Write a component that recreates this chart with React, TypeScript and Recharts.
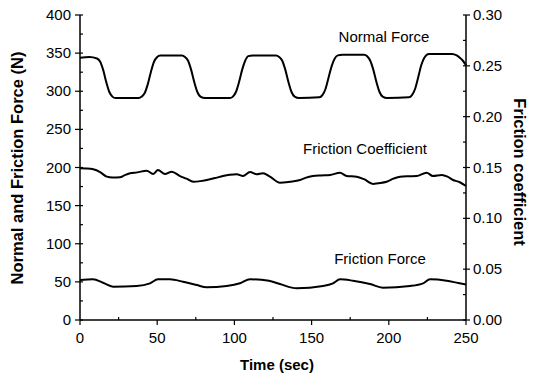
import { LineChart, Line, XAxis, YAxis } from 'recharts'

// Normal force (N)
const normalTime = [0, 6, 11, 13, 15, 17, 19, 21, 23, 38, 40, 42, 44, 46, 48, 50, 52, 66, 68, 70, 72, 74, 76, 78, 81, 97, 99, 101, 103, 105, 107, 109, 112, 127, 129, 131, 133, 135, 137, 139, 142, 155, 157, 159, 161, 163, 165, 167, 170, 184, 186, 188, 190, 192, 194, 196, 199, 213, 215, 217, 219, 221, 223, 226, 241, 244, 246, 248, 250]
const normalForce = [344, 345, 343, 339, 328, 312, 299, 293, 291, 291, 293, 298, 310, 326, 339, 345, 347, 347, 345, 340, 328, 312, 299, 293, 291, 291, 293, 299, 312, 328, 340, 346, 347, 347, 345, 340, 328, 312, 299, 293, 291, 292, 295, 303, 318, 333, 343, 347, 348, 348, 346, 340, 328, 312, 299, 293, 291, 292, 295, 303, 318, 334, 344, 349, 349, 347, 344, 340, 334]

// Friction coefficient (right axis)
const coefTime = [0, 4, 8.6, 13, 17.3, 21, 25.9, 29, 32.4, 37, 43.2, 47.3, 50.5, 55, 59.4, 64.8, 69, 73.4, 78, 84.2, 88, 92.6, 97, 101.5, 105.6, 110.1, 114.4, 118.5, 123, 129.5, 136, 142.5, 146, 150.9, 156, 161.9, 168.4, 172.7, 179.2, 184, 189.8, 193, 198.6, 203, 207.3, 213, 218, 224.5, 228.6, 234.3, 238, 241.6, 246, 250]
const coefValue = [0.1492, 0.149, 0.1482, 0.1455, 0.141, 0.1402, 0.1404, 0.1425, 0.1443, 0.1452, 0.1469, 0.1436, 0.1475, 0.1436, 0.1459, 0.1416, 0.139, 0.136, 0.1366, 0.1384, 0.1398, 0.1416, 0.1428, 0.1433, 0.1416, 0.1456, 0.1433, 0.1443, 0.141, 0.135, 0.136, 0.1377, 0.1398, 0.1416, 0.1422, 0.1426, 0.1449, 0.1416, 0.141, 0.1385, 0.1338, 0.1345, 0.136, 0.139, 0.141, 0.1414, 0.1416, 0.1449, 0.1416, 0.1426, 0.141, 0.1377, 0.1355, 0.1318]

// Friction force (N)
const frictionTime = [0, 8.4, 14.9, 21.4, 36.7, 45.3, 50.5, 58.3, 66.7, 75.6, 82, 95, 103.6, 110.1, 122.4, 129.5, 140.3, 157.4, 163.9, 168.4, 176.8, 187.8, 196.2, 213.7, 222.2, 226.7, 237.5, 245, 250]
const frictionForce = [52.5, 53.4, 48.9, 43.7, 44.6, 48.1, 53.4, 53.4, 50.2, 45.9, 42.9, 44.6, 48.1, 53.4, 51.5, 47.2, 41.6, 44.6, 48.1, 53.4, 51.5, 47.2, 42.4, 44.6, 48.1, 53.4, 51.5, 48.5, 46.6]

const timeTicks = [0, 25, 50, 75, 100, 125, 150, 175, 200, 225, 250]
const forceTicks = [0, 25, 50, 75, 100, 125, 150, 175, 200, 225, 250, 275, 300, 325, 350, 375, 400]
const coefTicks = [0, 0.025, 0.05, 0.075, 0.1, 0.125, 0.15, 0.175, 0.2, 0.225, 0.25, 0.275, 0.3]

const normalData = normalTime.map((t, i) => ({ t, v: normalForce[i] }))
const coefData = coefTime.map((t, i) => ({ t, v: coefValue[i] }))
const frictionData = frictionTime.map((t, i) => ({ t, v: frictionForce[i] }))

const FONT = 'Arial, "Liberation Sans", Helvetica, sans-serif'

const isMajor = (v: number, step: number) => Math.abs(v / step - Math.round(v / step)) < 1e-6

function BottomTick({ x, y, payload }: any) {
  const major = isMajor(payload.value, 50)
  return (
    <g>
      <line x1={x} x2={x} y1={y} y2={major ? y + 5 : y - 3} stroke="#000" strokeWidth={1.2} />
      {major && (
        <text x={x} y={y + 23} textAnchor="middle" fontSize={15} fontFamily={FONT} fill="#000">
          {payload.value}
        </text>
      )}
    </g>
  )
}

function TopTick({ x, y }: any) {
  return <line x1={x} x2={x} y1={y} y2={y + 4} stroke="#000" strokeWidth={1.2} />
}

function LeftTick({ x, y, payload }: any) {
  const major = isMajor(payload.value, 50)
  return (
    <g>
      <line x1={major ? x - 5 : x} x2={x + 3} y1={y} y2={y} stroke="#000" strokeWidth={1.2} />
      {major && (
        <text x={x - 9} y={y + 5} textAnchor="end" fontSize={15} fontFamily={FONT} fill="#000">
          {payload.value}
        </text>
      )}
    </g>
  )
}

function RightTick({ x, y, payload }: any) {
  const major = isMajor(payload.value, 0.05)
  return (
    <g>
      <line x1={x - 3} x2={major ? x + 4 : x} y1={y} y2={y} stroke="#000" strokeWidth={1.2} />
      {major && (
        <text x={x + 7} y={y + 5} textAnchor="start" fontSize={15} fontFamily={FONT} fill="#000">
          {payload.value.toFixed(2)}
        </text>
      )}
    </g>
  )
}

export default function App() {
  return (
    <div style={{ position: 'absolute', left: 0, top: 0, width: 535, height: 378, background: '#fff' }}>
      <LineChart width={535} height={378} margin={{ top: 15, right: 0, bottom: 0, left: 0 }}>
        <XAxis
          xAxisId="bottom"
          dataKey="t"
          type="number"
          domain={[0, 250]}
          ticks={timeTicks}
          interval={0}
          height={58}
          tickSize={0}
          tickMargin={0}
          tickLine={false}
          tick={<BottomTick />}
          axisLine={{ stroke: '#000', strokeWidth: 1.5 }}
        />
        <XAxis
          xAxisId="top"
          orientation="top"
          dataKey="t"
          type="number"
          domain={[0, 250]}
          ticks={timeTicks}
          interval={0}
          height={0}
          tickSize={0}
          tickMargin={0}
          tickLine={false}
          tick={<TopTick />}
          axisLine={{ stroke: '#000', strokeWidth: 1.5 }}
        />
        <YAxis
          yAxisId="left"
          type="number"
          domain={[0, 400]}
          ticks={forceTicks}
          interval={0}
          width={80}
          tickSize={0}
          tickMargin={0}
          tickLine={false}
          tick={<LeftTick />}
          axisLine={{ stroke: '#000', strokeWidth: 1.5 }}
        />
        <YAxis
          yAxisId="right"
          orientation="right"
          type="number"
          domain={[0, 0.3]}
          ticks={coefTicks}
          interval={0}
          width={69}
          tickSize={0}
          tickMargin={0}
          tickLine={false}
          tick={<RightTick />}
          axisLine={{ stroke: '#000', strokeWidth: 1.5 }}
        />
        <Line
          data={normalData}
          xAxisId="bottom"
          yAxisId="left"
          dataKey="v"
          type="monotone"
          stroke="#000"
          strokeWidth={2}
          dot={false}
          isAnimationActive={false}
        />
        <Line
          data={coefData}
          xAxisId="bottom"
          yAxisId="right"
          dataKey="v"
          type="monotone"
          stroke="#000"
          strokeWidth={2}
          dot={false}
          isAnimationActive={false}
        />
        <Line
          data={frictionData}
          xAxisId="bottom"
          yAxisId="left"
          dataKey="v"
          type="monotone"
          stroke="#000"
          strokeWidth={2}
          dot={false}
          isAnimationActive={false}
        />
        <text x={384} y={42} textAnchor="middle" fontSize={15} fontFamily={FONT} fill="#000">Normal Force</text>
        <text x={365} y={154} textAnchor="middle" fontSize={15} fontFamily={FONT} fill="#000">Friction Coefficient</text>
        <text x={380} y={264} textAnchor="middle" fontSize={15} fontFamily={FONT} fill="#000">Friction Force</text>
        <text x={277} y={370} textAnchor="middle" fontSize={15} fontWeight="bold" fontFamily={FONT} fill="#000">Time (sec)</text>
        <text
          transform="translate(23,168) rotate(-90)"
          textAnchor="middle"
          fontSize={16.5}
          fontWeight="bold"
          fontFamily={FONT}
          fill="#000"
        >
          Normal and Friction Force (N)
        </text>
        <text
          transform="translate(514,172) rotate(90)"
          textAnchor="middle"
          fontSize={16.5}
          fontWeight="bold"
          fontFamily={FONT}
          fill="#000"
        >
          Friction coefficient
        </text>
      </LineChart>
    </div>
  )
}
